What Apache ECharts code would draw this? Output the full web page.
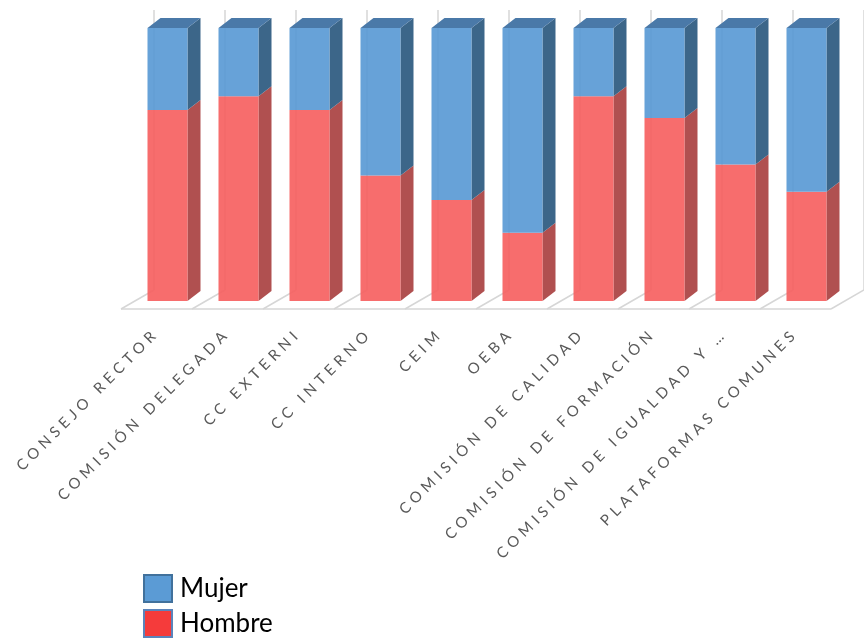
<!DOCTYPE html>
<html>
<head>
<meta charset="utf-8">
<script src="https://cdn.jsdelivr.net/npm/echarts@6/dist/echarts.min.js"></script>
<style>
html,body{margin:0;padding:0;background:#fff;}
#main{width:864px;height:639px;}
</style>
</head>
<body>
<div id="main"></div>
<script>
var categorias = ['CONSEJO RECTOR', 'COMISIÓN DELEGADA', 'CC EXTERNI', 'CC INTERNO', 'CEIM', 'OEBA',
	'COMISIÓN DE CALIDAD', 'COMISIÓN DE FORMACIÓN', 'COMISIÓN DE IGUALDAD Y …', 'PLATAFORMAS COMUNES'];
var hombre = [0.70, 0.75, 0.70, 0.46, 0.37, 0.25, 0.75, 0.67, 0.50, 0.40];
var mujer = [0.30, 0.25, 0.30, 0.54, 0.63, 0.75, 0.25, 0.33, 0.50, 0.60];

// espaciado de letras de las etiquetas del eje (como en excel)
var _fillText = CanvasRenderingContext2D.prototype.fillText;
CanvasRenderingContext2D.prototype.fillText = function(){
	this.letterSpacing = /\b15px/.test(this.font) ? '4.6px' : '0px';
	return _fillText.apply(this, arguments);
};

var DX = 13, DY = 10, W = 40, OFF = 11;

function barra(front, side, top){
	return function(params, api){
		var i = api.value(0);
		var pLo = api.coord([i, api.value(1)]);
		var pHi = api.coord([i, api.value(2)]);
		var x0 = pLo[0] + OFF - W / 2, x1 = x0 + W;
		var yB = pLo[1], yT = pHi[1];
		var children = [
			{type:'polygon', shape:{points:[[x1,yT],[x1+DX,yT-DY],[x1+DX,yB-DY],[x1,yB]]}, style:{fill:side}},
			{type:'rect', shape:{x:x0, y:yT, width:W, height:yB-yT}, style:{fill:front, opacity:0.93}}
		];
		if(top){
			children.push({type:'polygon', shape:{points:[[x0,yT],[x0+DX,yT-DY],[x1+DX,yT-DY],[x1,yT]]}, style:{fill:top}});
		}
		return {type:'group', children:children};
	};
}

function suelo(params, api){
	var band = api.size([1, 0])[0];
	var p = api.coord([0, 0]);
	var left = p[0] - band / 2, yF = p[1] + 8;
	var st = {stroke:'#d6d6d6', lineWidth:1.5};
	var children = [];
	for(var k = 0; k <= categorias.length; k++){
		var x = left + k * band;
		children.push({type:'line', shape:{x1:x+33, y1:yF-19, x2:x+33, y2:10}, style:st});
		children.push({type:'line', shape:{x1:x, y1:yF, x2:x+33, y2:yF-19}, style:st});
	}
	children.push({type:'line', shape:{x1:left, y1:yF, x2:left+categorias.length*band, y2:yF}, style:st});
	return {type:'group', children:children};
}

var datosH = [], datosM = [];
for(var i = 0; i < categorias.length; i++){
	datosH.push([i, 0, hombre[i]]);
	datosM.push([i, hombre[i], hombre[i] + mujer[i]]);
}

var myChart = echarts.init(document.getElementById('main'));
var option = {
	animation: false,
	grid: {left:121, right:33, top:28, bottom:338},
	legend: {
		orient:'vertical', left:143, top:574, padding:0,
		icon:'rect', itemWidth:28, itemHeight:27, itemGap:6,
		textStyle:{fontFamily:'Lato', fontSize:26, color:'#000', padding:[4,0,0,3]},
		data:[
			{name:'Mujer', itemStyle:{color:'#5b9bd5', borderColor:'#41719c', borderWidth:2}},
			{name:'Hombre', itemStyle:{color:'#f53b3b', borderColor:'#5b84bb', borderWidth:2}}
		]
	},
	xAxis: {
		type:'category', data:categorias,
		axisLine:{show:false}, axisTick:{show:false},
		axisLabel:{interval:0, rotate:45, margin:30, fontFamily:'Lato', fontSize:15, color:'#595959'}
	},
	yAxis: {type:'value', min:0, max:1, show:false, splitLine:{show:false}},
	series: [
		{type:'custom', name:'suelo', renderItem:suelo, data:[[0, 0]], silent:true, z:1},
		{type:'custom', name:'Hombre', renderItem:barra('#f66262', '#b05050', null),
			itemStyle:{color:'#f53b3b'}, encode:{x:0, y:[1,2]}, data:datosH, z:2},
		{type:'custom', name:'Mujer', renderItem:barra('#5b9bd5', '#3c6689', '#4a79a8'),
			itemStyle:{color:'#5b9bd5'}, encode:{x:0, y:[1,2]}, data:datosM, z:3}
	]
};
myChart.setOption(option);
</script>
</body>
</html>
